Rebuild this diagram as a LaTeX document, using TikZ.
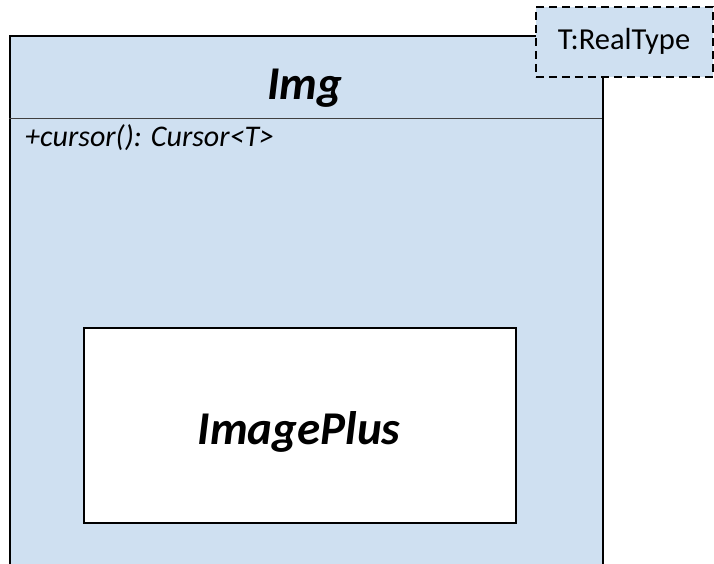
\documentclass[tikz,border=0pt]{standalone}
\usepackage{fontspec}
\setmainfont{Carlito}
\definecolor{umlblue}{RGB}{207,224,241}
\definecolor{sepgray}{RGB}{64,64,64}
\tikzset{
  classbox/.style={draw=black, line width=1.5pt, fill=umlblue, inner sep=0pt},
  innerbox/.style={draw=black, line width=1.5pt, fill=white, inner sep=0pt},
  parambox/.style={draw=black, dash pattern=on 8pt off 5pt, line width=1.5pt, fill=umlblue, inner sep=0pt},
  titletext/.style={font=\fontsize{47}{56}\selectfont\bfseries\itshape, inner sep=0pt},
  optext/.style={font=\fontsize{30}{36}\selectfont\itshape, inner sep=0pt, anchor=base west},
  paramtext/.style={font=\fontsize{30.5}{36}\selectfont, inner sep=0pt}
}
\begin{document}
\begin{tikzpicture}[x=1pt,y=-1pt]
\useasboundingbox (0,0) rectangle (714,563);
\clip (0,0) rectangle (714,563);
\node[classbox, anchor=north west, minimum width=593pt, minimum height=560pt] (img) at (9,35) {};
\coordinate (sepL) at (9,118);
\coordinate (sepR) at (602,118);
\draw[sepgray, line width=0.9pt] (sepL) -- (sepR);
\node[parambox, anchor=north west, minimum width=177pt, minimum height=70pt] (param) at (535,6) {};
\node[paramtext] (paramlbl) at (624,41) {T:RealType};
\node[titletext] (title) at (305,88) {Img};
\node[optext] (op) at (25,146) {+cursor(): Cursor<T>};
\node[innerbox, anchor=north west, minimum width=432pt, minimum height=195pt] (ip) at (83,327) {};
\node[titletext] (iplbl) at (299,432) {ImagePlus};
\end{tikzpicture}
\end{document}
